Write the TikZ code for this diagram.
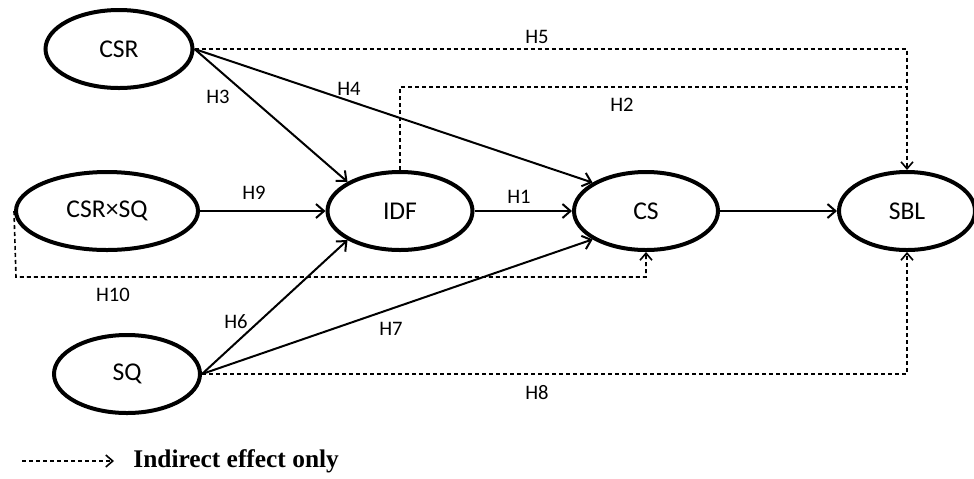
\documentclass[tikz,border=0pt]{standalone}
\usepackage{fontspec}
\setmainfont{Carlito}
\newfontfamily\legendfont{Liberation Serif}
\usetikzlibrary{shapes.geometric, arrows.meta}

\begin{document}
\begin{tikzpicture}[x=0.5pt, y=-0.5pt,
  construct/.style={draw, ellipse, line width=2pt, inner sep=0pt, minimum width=72.5pt, minimum height=39pt, font=\fontsize{12.8}{14}\selectfont},
  direct/.style={line width=1pt, -{Straight Barb[length=4pt, width=7pt]}},
  indirect/.style={line width=0.8pt, dash pattern=on 2pt off 1.5pt, -{Straight Barb[length=3.5pt, width=6pt]}},
  hyp/.style={font=\fontsize{10.3}{12}\selectfont}]
  \useasboundingbox (0,0) rectangle (974,478);

  \node[construct, minimum width=73.5pt] (CSR) at (119,49) {CSR};
  \node[construct, minimum width=91pt] (CSRxSQ) at (107,211) {CSR×SQ};
  \node[construct] (IDF) at (400,211) {IDF};
  \node[construct, minimum width=72pt] (CS) at (646,211) {CS};
  \node[construct, minimum width=68pt] (SBL) at (907,211) {SBL};
  \node[construct, minimum width=73pt] (SQ) at (127,374) {SQ};

  \draw[direct] (CSR.east) -- (IDF.151);
  \draw[direct] (CSR.east) -- (CS.152);
  \draw[direct] (CSRxSQ) -- (IDF);
  \draw[direct] (IDF) -- (CS);
  \draw[direct] (CS) -- (SBL);
  \draw[direct] (SQ.east) -- (IDF.209);
  \draw[direct] (SQ.east) -- (CS.208);

  \coordinate (H2top) at (400,87);
  \coordinate (H10corner) at (16,277);
  \draw[indirect] (CSR.east) -| (SBL.north);
  \draw[indirect, -] (IDF.north) |- (SBL.north |- H2top);
  \draw[indirect] (CSRxSQ.west) -- (H10corner) -| (CS.south);
  \draw[indirect] (SQ.east) -| (SBL.south);

  \node[hyp] (lH1) at (519,197) {H1};
  \node[hyp] (lH2) at (622,105) {H2};
  \node[hyp] (lH3) at (218,97) {H3};
  \node[hyp] (lH4) at (349,89) {H4};
  \node[hyp] (lH5) at (537,37) {H5};
  \node[hyp] (lH6) at (236,322) {H6};
  \node[hyp] (lH7) at (391,329) {H7};
  \node[hyp] (lH8) at (537,393) {H8};
  \node[hyp] (lH9) at (254,193) {H9};
  \node[hyp] (lH10) at (113,295) {H10};

  \coordinate (legA) at (22,461);
  \coordinate (legB) at (114,461);
  \draw[indirect] (legA) -- (legB);
  \node[anchor=west, inner sep=0pt, font=\legendfont\bfseries\fontsize{12.7}{14}\selectfont] (legtext) at (133,461) {Indirect effect only};
\end{tikzpicture}
\end{document}
